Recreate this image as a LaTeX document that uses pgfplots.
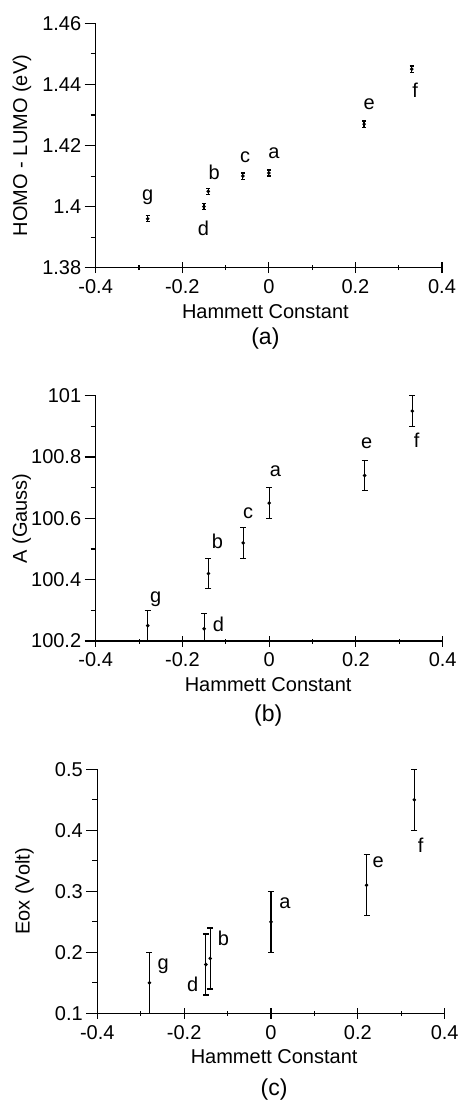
\documentclass[border=0pt]{standalone}
\usepackage{fontspec}
\setmainfont{Liberation Sans}
\usepackage{pgfplots}
\pgfplotsset{compat=1.18}

\newcommand{\lbl}{\fontsize{20bp}{23bp}\selectfont}
\newcommand{\capfont}{\fontsize{23bp}{26bp}\selectfont}

\pgfplotsset{
  hamm/.style={
    scale only axis,
    anchor=south west,
    axis lines=left,
    axis line style={-, line width=1.2bp},
    xmin=-0.4, xmax=0.4,
    xtick={-0.4,-0.2,0,0.2,0.4},
    xticklabels={-0.4,-0.2,0,0.2,0.4},
    minor x tick num=1,
    minor y tick num=1,
    xtick align=center, ytick align=outside,
    major tick length=11bp, minor tick length=5bp,
    every tick/.style={black, line width=1.1bp},
    tick label style={font=\lbl},
    x tick label style={yshift=-3bp},
    label style={font=\lbl},
    xlabel={Hammett Constant},
    clip=false,
  },
  ebar/.style={only marks, mark=*, mark size=1.1bp, black, line width=1.2bp,
    error bars/.cd, y dir=both, y explicit,
    error bar style={line width=1.2bp},
    error mark options={rotate=90, mark size=#1, line width=1.2bp}},
}

\begin{document}
\begin{tikzpicture}
\path[use as bounding box] (0,0) rectangle (461bp,-1101bp);

% (a)
\begin{axis}[hamm, at={(95.7bp,-267.7bp)}, width=346.3bp, height=244.4bp,
  ymin=1.38, ymax=1.46,
  ytick={1.38,1.4,1.42,1.44,1.46},
  yticklabels={1.38,1.4,1.42,1.44,1.46},
  ylabel={HOMO - LUMO (eV)},
  ylabel style={at={(axis description cs:-0.213,0.5)}, anchor=center},
  xlabel style={at={(axis description cs:0.49,-0.181)}, anchor=center}]
\addplot[ebar=2bp] table[y error=e] {
x y e
-0.28 1.396 0.001
-0.15 1.400 0.001
-0.14 1.405 0.001
-0.06 1.410 0.001
0 1.411 0.001
0.22 1.427 0.001
0.33 1.445 0.001
};
\node[font=\lbl] at (axis cs:-0.28,1.403) {g};
\node[font=\lbl] at (axis cs:-0.151,1.3929) {d};
\node[font=\lbl] at (axis cs:-0.126,1.4111) {b};
\node[font=\lbl] at (axis cs:-0.055,1.4163) {c};
\node[font=\lbl] at (axis cs:0.0115,1.4174) {a};
\node[font=\lbl] at (axis cs:0.2315,1.4336) {e};
\node[font=\lbl] at (axis cs:0.3377,1.438) {f};
\node[font=\capfont] at (axis description cs:0.49,-0.288) {(a)};
\end{axis}

% (b)
\begin{axis}[hamm, at={(95.7bp,-641bp)}, width=347bp, height=245.3bp,
  ymin=100.2, ymax=101,
  ytick={100.2,100.4,100.6,100.8,101},
  yticklabels={100.2,100.4,100.6,100.8,101},
  ylabel={A (Gauss)},
  ylabel style={at={(axis description cs:-0.213,0.5)}, anchor=center},
  xlabel style={at={(axis description cs:0.497,-0.179)}, anchor=center}]
\addplot[ebar=3bp] table[y error plus=ep, y error minus=em] {
x y ep em
-0.28 100.25 0.05 0.05
-0.15 100.24 0.05 0.04
-0.14 100.42 0.05 0.05
-0.06 100.52 0.05 0.05
0 100.65 0.05 0.05
0.22 100.74 0.05 0.05
0.33 100.95 0.05 0.05
};
\node[font=\lbl] at (axis cs:-0.2617,100.336) {g};
\node[font=\lbl] at (axis cs:-0.117,100.255) {d};
\node[font=\lbl] at (axis cs:-0.1195,100.524) {b};
\node[font=\lbl] at (axis cs:-0.0488,100.616) {c};
\node[font=\lbl] at (axis cs:0.0142,100.754) {a};
\node[font=\lbl] at (axis cs:0.2248,100.845) {e};
\node[font=\lbl] at (axis cs:0.34,100.855) {f};
\node[font=\capfont] at (axis description cs:0.497,-0.302) {(b)};
\end{axis}

% (c)
\begin{axis}[hamm, at={(97.3bp,-1013.3bp)}, width=347.4bp, height=244bp,
  ymin=0.1, ymax=0.5,
  ytick={0.1,0.2,0.3,0.4,0.5},
  yticklabels={0.1,0.2,0.3,0.4,0.5},
  ylabel={Eox (Volt)},
  ylabel style={at={(axis description cs:-0.21,0.5)}, anchor=center},
  xlabel style={at={(axis description cs:0.509,-0.179)}, anchor=center}]
\addplot[ebar=3bp] table[y error=e] {
x y e
-0.28 0.15 0.05
-0.15 0.18 0.05
-0.14 0.19 0.05
0 0.25 0.05
0.22 0.31 0.05
0.33 0.45 0.05
};
\node[font=\lbl] at (axis cs:-0.248,0.1765) {g};
\node[font=\lbl] at (axis cs:-0.1804,0.1475) {d};
\node[font=\lbl] at (axis cs:-0.1098,0.2229) {b};
\node[font=\lbl] at (axis cs:0.0322,0.2803) {a};
\node[font=\lbl] at (axis cs:0.247,0.3485) {e};
\node[font=\lbl] at (axis cs:0.3447,0.3759) {f};
\node[font=\capfont] at (axis description cs:0.509,-0.314) {(c)};
\end{axis}
\end{tikzpicture}
\end{document}
